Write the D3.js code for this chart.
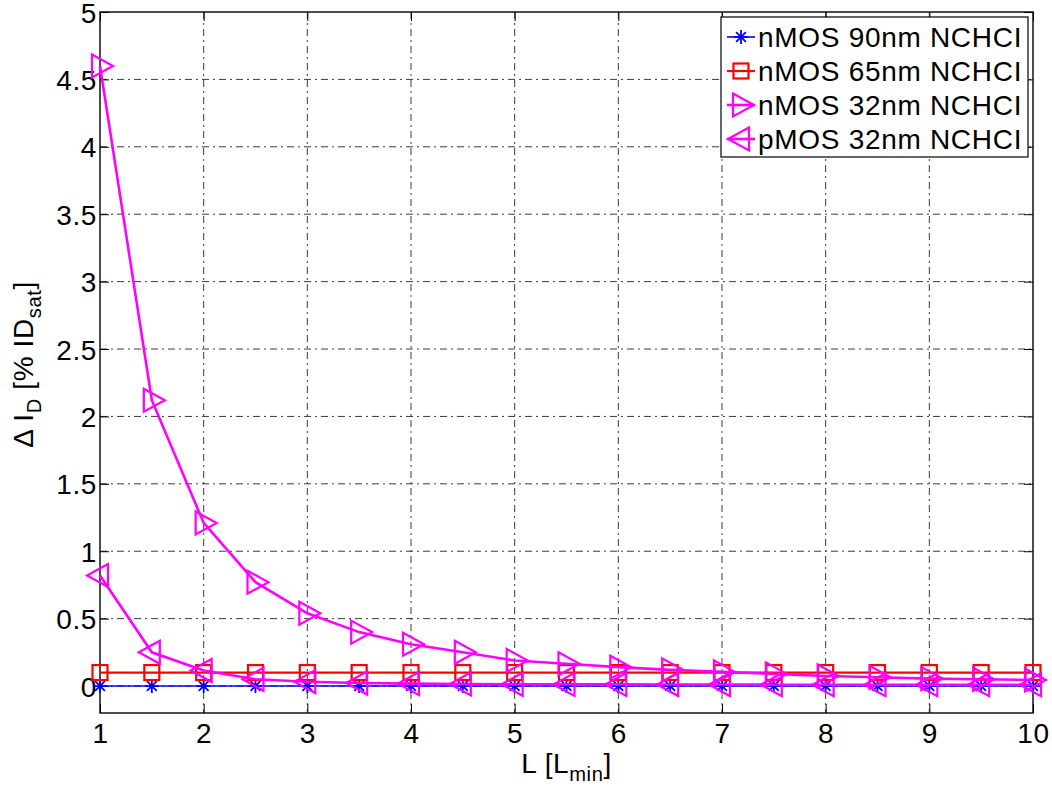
<!DOCTYPE html>
<html>
<head>
<meta charset="utf-8">
<script src="https://cdn.jsdelivr.net/npm/d3@7"></script>
<style>
  html, body { margin: 0; padding: 0; background: #fff; }
  svg { display: block; font-family: "Liberation Sans", Arial, Helvetica, sans-serif; }
</style>
</head>
<body>
<svg id="chart" width="1052" height="787"></svg>
<script>
// Channel length in multiples of L_min
const lengths = [1, 1.5, 2, 2.5, 3, 3.5, 4, 4.5, 5, 5.5, 6, 6.5, 7, 7.5, 8, 8.5, 9, 9.5, 10];

// Drain-current degradation, % of ID_sat
const nmos90 = [0, 0, 0, 0, 0, 0, 0, 0, 0, 0, 0, 0, 0, 0, 0, 0, 0, 0, 0];
const nmos65 = [0.1, 0.1, 0.1, 0.1, 0.1, 0.1, 0.1, 0.1, 0.1, 0.1, 0.1, 0.1, 0.1, 0.1, 0.1, 0.1, 0.1, 0.1, 0.1];
const nmos32 = [4.6, 2.12, 1.21, 0.77, 0.54, 0.4, 0.31, 0.25, 0.19, 0.165, 0.14, 0.12, 0.105, 0.09, 0.075, 0.065, 0.055, 0.05, 0.045];
const pmos32 = [0.82, 0.25, 0.115, 0.05, 0.032, 0.022, 0.018, 0.015, 0.013, 0.012, 0.012, 0.011, 0.011, 0.01, 0.01, 0.01, 0.01, 0.01, 0.01];

const seriesNames = ["nMOS 90nm NCHCI", "nMOS 65nm NCHCI", "nMOS 32nm NCHCI", "pMOS 32nm NCHCI"];

const xTicks = [1, 2, 3, 4, 5, 6, 7, 8, 9, 10];
const yTicks = [0, 0.5, 1, 1.5, 2, 2.5, 3, 3.5, 4, 4.5, 5];

const series = [
  { name: seriesNames[0], values: nmos90, color: "#0000ff", marker: "star",   width: 1.6 },
  { name: seriesNames[1], values: nmos65, color: "#ff0000", marker: "square", width: 2.2 },
  { name: seriesNames[2], values: nmos32, color: "#ff00ff", marker: "right",  width: 2.6 },
  { name: seriesNames[3], values: pmos32, color: "#ff00ff", marker: "left",   width: 2.6 }
];

const svg = d3.select("#chart");
const plot = { left: 100, right: 1033, top: 12, bottom: 713 };

const x = d3.scaleLinear().domain([1, 10]).range([plot.left, plot.right]);
const y = d3.scaleLinear().domain([-0.2, 5]).range([plot.bottom, plot.top]);

const FONT = 28;
const SPACING = "0.6px";

// grid (dash-dot)
const grid = svg.append("g").attr("stroke", "#3a3a3a").attr("stroke-width", 1)
  .attr("stroke-dasharray", "7,4,2,4").attr("fill", "none");
grid.selectAll("line.v").data(xTicks.filter(d => d > 1 && d < 10)).join("line")
  .attr("x1", d => x(d)).attr("x2", d => x(d))
  .attr("y1", plot.top).attr("y2", plot.bottom);
grid.selectAll("line.h").data(yTicks.filter(d => d < 5)).join("line")
  .attr("x1", plot.left).attr("x2", plot.right)
  .attr("y1", d => y(d)).attr("y2", d => y(d));

// axes with inward ticks, mirrored on top and right
const tickLen = 9;
const xAxisB = d3.axisBottom(x).tickValues(xTicks).tickSizeInner(-tickLen).tickSizeOuter(0).tickPadding(10).tickFormat(d3.format("d"));
const xAxisT = d3.axisTop(x).tickValues(xTicks).tickSizeInner(-tickLen).tickSizeOuter(0).tickFormat("");
const yAxisL = d3.axisLeft(y).tickValues(yTicks).tickSizeInner(-tickLen).tickSizeOuter(0).tickPadding(3).tickFormat(d => String(d));
const yAxisR = d3.axisRight(y).tickValues(yTicks).tickSizeInner(-tickLen).tickSizeOuter(0).tickFormat("");

function styleAxis(g) {
  g.select(".domain").remove();
  g.selectAll(".tick line").attr("stroke", "#000").attr("stroke-width", 1);
  g.selectAll(".tick text").attr("fill", "#000").attr("font-size", FONT)
    .attr("font-family", "Liberation Sans, Arial, sans-serif")
    .style("letter-spacing", SPACING);
}
svg.append("g").attr("transform", `translate(0,${plot.bottom})`).call(xAxisB).call(styleAxis);
svg.append("g").attr("transform", `translate(0,${plot.top})`).call(xAxisT).call(styleAxis);
svg.append("g").attr("transform", `translate(${plot.left},0)`).call(yAxisL).call(styleAxis)
  .selectAll(".tick text").attr("dy", "0.36em");
svg.append("g").attr("transform", `translate(${plot.right},0)`).call(yAxisR).call(styleAxis);

// axes box
svg.append("rect")
  .attr("x", plot.left).attr("y", plot.top)
  .attr("width", plot.right - plot.left).attr("height", plot.bottom - plot.top)
  .attr("fill", "none").attr("stroke", "#000").attr("stroke-width", 1.4);

// marker shapes
function drawMarker(g, type, color) {
  const sw = 2.2;
  if (type === "star") {
    const r = 7;
    const d = `M${-r},0L${r},0M0,${-r}L0,${r}M${-r * 0.7},${-r * 0.7}L${r * 0.7},${r * 0.7}M${-r * 0.7},${r * 0.7}L${r * 0.7},${-r * 0.7}`;
    g.append("path").attr("d", d).attr("stroke", color).attr("stroke-width", 1.8).attr("fill", "none");
  } else if (type === "square") {
    g.append("rect").attr("x", -7.5).attr("y", -7.5).attr("width", 15).attr("height", 15)
      .attr("stroke", color).attr("stroke-width", sw).attr("fill", "none");
  } else if (type === "right") {
    g.append("path").attr("d", "M-8,-11.5L13,0L-8,11.5Z")
      .attr("stroke", color).attr("stroke-width", sw).attr("fill", "none").attr("stroke-linejoin", "miter");
  } else if (type === "left") {
    g.append("path").attr("d", "M8,-11.5L-13,0L8,11.5Z")
      .attr("stroke", color).attr("stroke-width", sw).attr("fill", "none").attr("stroke-linejoin", "miter");
  }
}

const line = d3.line().x(d => x(d[0])).y(d => y(d[1]));
const marks = svg.append("g");
series.forEach(s => {
  const pts = lengths.map((l, i) => [l, s.values[i]]);
  const g = marks.append("g");
  g.append("path").datum(pts).attr("d", line)
    .attr("fill", "none").attr("stroke", s.color).attr("stroke-width", s.width);
  g.selectAll("g.m").data(pts).join("g")
    .attr("transform", d => `translate(${x(d[0])},${y(d[1])})`)
    .each(function () { drawMarker(d3.select(this), s.marker, s.color); });
});

// legend
const leg = svg.append("g");
const legBox = { x: 721, y: 17, w: 307, h: 140 };
leg.append("rect").attr("x", legBox.x).attr("y", legBox.y).attr("width", legBox.w).attr("height", legBox.h)
  .attr("fill", "#fff").attr("stroke", "#000").attr("stroke-width", 1.2);
series.forEach((s, i) => {
  const cy = 37 + i * 34;
  const row = leg.append("g");
  row.append("line").attr("x1", 727).attr("x2", 755).attr("y1", cy).attr("y2", cy)
    .attr("stroke", s.color).attr("stroke-width", s.width);
  drawMarker(row.append("g").attr("transform", `translate(741,${cy})`), s.marker, s.color);
  row.append("text").attr("x", 758).attr("y", cy + 10).attr("font-size", FONT)
    .style("letter-spacing", "0.7px").attr("fill", "#000").text(s.name);
});

// axis labels
const xl = svg.append("text").attr("x", (plot.left + plot.right) / 2).attr("y", 773)
  .attr("text-anchor", "middle").attr("font-size", FONT).attr("fill", "#000")
  .style("letter-spacing", SPACING);
xl.append("tspan").text("L [L");
xl.append("tspan").attr("font-size", FONT * 0.72).attr("dy", 8).text("min");
xl.append("tspan").attr("dy", -8).text("]");

const yl = svg.append("text")
  .attr("transform", `translate(33,${(plot.top + plot.bottom) / 2 + 2}) rotate(-90)`)
  .attr("text-anchor", "middle").attr("font-size", FONT).attr("fill", "#000")
  .style("letter-spacing", SPACING);
yl.append("tspan").text("Δ I");
yl.append("tspan").attr("font-size", FONT * 0.72).attr("dy", 8).text("D");
yl.append("tspan").attr("dy", -8).text(" [% ID");
yl.append("tspan").attr("font-size", FONT * 0.72).attr("dy", 8).text("sat");
yl.append("tspan").attr("dy", -8).text("]");
</script>
</body>
</html>
